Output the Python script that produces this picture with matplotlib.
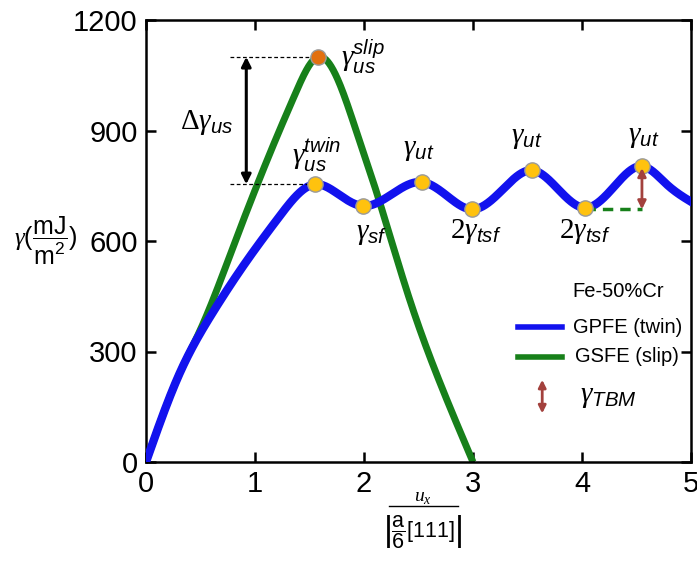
import numpy as np
import matplotlib
matplotlib.use("Agg")
import matplotlib.pyplot as plt
from matplotlib.lines import Line2D

plt.rcParams['font.family'] = ['Liberation Sans', 'DejaVu Sans']
plt.rcParams['mathtext.fontset'] = 'custom'
plt.rcParams['mathtext.rm'] = 'Liberation Sans'
plt.rcParams['mathtext.it'] = 'Liberation Sans:italic'
plt.rcParams['mathtext.cal'] = 'Liberation Serif:italic'
plt.rcParams['mathtext.bf'] = 'Liberation Serif'
plt.rcParams['mathtext.sf'] = 'Liberation Sans'

# ---- data ----
gpfe_x = [0, 0.30, 0.60, 0.91, 1.22, 1.55, 1.78, 1.99, 2.26, 2.53, 2.76, 2.99,
          3.27, 3.54, 3.78, 4.03, 4.29, 4.55, 4.78, 5.02]
gpfe_y = [0, 235, 400, 540, 665, 754, 724, 695, 728, 760, 723, 686,
          739, 792, 741, 690, 746, 803, 753, 703]

gsfe_x = [0, 0.30, 0.50, 0.82, 1.03, 1.21, 1.37, 1.58, 1.78, 1.94, 2.08, 2.42, 2.70, 3.0]
gsfe_y = [0, 235, 360, 600, 760, 890, 1000, 1100, 1024, 889, 765, 440, 213, 0]

dot_x = [1.55, 1.99, 2.53, 2.99, 3.54, 4.03, 4.55]
dot_y = [754, 695, 760, 686, 792, 690, 803]
slip_peak = (1.58, 1100)
tbm_x = 4.55
tbm_range = (686, 798)
tbm_dash_x = [4.03, 4.55]

x_ticks = [0, 1, 2, 3, 4, 5]
y_ticks = [0, 300, 600, 900, 1200]

BLUE = '#1212EE'
GREEN = '#17801A'
BROWN = '#A3413D'
GOLD = '#FFC20E'


def cspline(x, y, xs):
    """Natural cubic spline through the read points (smooth drawing only)."""
    x = np.asarray(x, float); y = np.asarray(y, float)
    n = len(x); h = np.diff(x)
    A = np.zeros((n, n)); r = np.zeros(n)
    A[0, 0] = 1; A[-1, -1] = 1
    for i in range(1, n - 1):
        A[i, i - 1] = h[i - 1]; A[i, i] = 2 * (h[i - 1] + h[i]); A[i, i + 1] = h[i]
        r[i] = 3 * ((y[i + 1] - y[i]) / h[i] - (y[i] - y[i - 1]) / h[i - 1])
    c = np.linalg.solve(A, r)
    b = (y[1:] - y[:-1]) / h - h * (2 * c[:-1] + c[1:]) / 3
    d = (c[1:] - c[:-1]) / (3 * h)
    idx = np.clip(np.searchsorted(x, xs) - 1, 0, n - 2)
    t = xs - x[idx]
    return y[idx] + b[idx] * t + c[idx] * t**2 + d[idx] * t**3


fig = plt.figure(figsize=(6.97, 5.63), dpi=100)
ax = fig.add_axes([146 / 697, 1 - 462 / 563, 545 / 697, 442 / 563])

xs_g = np.linspace(gsfe_x[0], gsfe_x[-1], 600)
ax.plot(xs_g, cspline(gsfe_x, gsfe_y, xs_g), color=GREEN, lw=5.0,
        solid_capstyle='butt', zorder=2)
xs_b = np.linspace(gpfe_x[0], gpfe_x[-1], 900)
ax.plot(xs_b, cspline(gpfe_x, gpfe_y, xs_b), color=BLUE, lw=6.0,
        solid_capstyle='butt', zorder=3)

ax.plot(dot_x, dot_y, 'o', ms=11, mfc=GOLD, mec='#9A9A9A', mew=1.0, zorder=5)
ax.plot([slip_peak[0]], [slip_peak[1]], 'o', ms=11, mfc='#E2700F',
        mec='#9A9A9A', mew=1.0, zorder=5)

# reference dashed lines and delta arrow
ax.plot([0.77, slip_peak[0]], [slip_peak[1]] * 2, ls=(0, (3, 2)), color='black', lw=0.9, zorder=4)
ax.plot([0.77, dot_x[0]], [dot_y[0]] * 2, ls=(0, (3, 2)), color='black', lw=0.9, zorder=4)
ax.annotate('', xy=(0.92, slip_peak[1]), xytext=(0.92, dot_y[0]),
            arrowprops=dict(arrowstyle='<|-|>', color='black', lw=2.2,
                            mutation_scale=14, shrinkA=0, shrinkB=0), zorder=6)

# TBM
ax.plot(tbm_dash_x, [tbm_range[0]] * 2, ls=(0, (3, 2)), color=GREEN, lw=2.5, zorder=4)
ax.annotate('', xy=(tbm_x, tbm_range[1]), xytext=(tbm_x, tbm_range[0]),
            arrowprops=dict(arrowstyle='<|-|>', color=BROWN, lw=2.0,
                            mutation_scale=12, shrinkA=0, shrinkB=0), zorder=7)

LS = 21
G = r'\mathcal{\gamma}'
ax.text(1.79, 1100, rf'${G}_{{us}}^{{slip}}$', fontsize=LS, ha='left', va='center')
ax.text(1.34, 835, rf'${G}_{{us}}^{{twin}}$', fontsize=LS, ha='left', va='center')
ax.text(1.93, 622, rf'${G}_{{sf}}$', fontsize=LS, ha='left', va='center')
ax.text(0.31, 922, rf'$\mathbf{{\Delta}}{G}_{{us}}$', fontsize=LS, ha='left', va='center')
for xx, yy in [(2.50, 849), (3.49, 881), (4.57, 886)]:
    ax.text(xx, yy, rf'${G}_{{ut}}$', fontsize=LS, ha='center', va='center')
for xx in [3.03, 4.03]:
    ax.text(xx, 627, rf'$\mathbf{{2}}{G}_{{tsf}}$', fontsize=LS, ha='center', va='center')

# legend (manual)
tr = ax.transAxes
LF = 14.5
ax.text(0.783, 0.385, 'Fe-50%Cr', transform=tr, fontsize=LF, ha='left', va='center')
ax.add_line(Line2D([0.683, 0.763], [0.305, 0.305], transform=tr, color=BLUE, lw=4))
ax.text(0.783, 0.305, 'GPFE (twin)', transform=tr, fontsize=LF, ha='left', va='center')
ax.add_line(Line2D([0.683, 0.763], [0.2376, 0.2376], transform=tr, color=GREEN, lw=4))
ax.text(0.787, 0.2376, 'GSFE (slip)', transform=tr, fontsize=LF, ha='left', va='center')
ax.annotate('', xy=(0.727, 0.186), xytext=(0.727, 0.110), xycoords=tr, textcoords=tr,
            arrowprops=dict(arrowstyle='<|-|>', color=BROWN, lw=2.0,
                            mutation_scale=11, shrinkA=0, shrinkB=0))
ax.text(0.796, 0.149, rf'${G}_{{TBM}}$', transform=tr, fontsize=LS, ha='left', va='center')

ax.set_xlim(0, 5)
ax.set_ylim(0, 1200)
ax.set_xticks(x_ticks)
ax.set_yticks(y_ticks)
ax.tick_params(direction='in', length=7, width=1.8, labelsize=21, pad=6,
               top=True, right=True)
for s in ax.spines.values():
    s.set_linewidth(1.8)

# y label
fig.text(0.066, 1 - 241 / 563,
         r'$\mathcal{\gamma}(\dfrac{\mathrm{mJ}}{\mathrm{m}^2})$',
         fontsize=18, ha='center', va='center')
# x label (fraction)
cx = 423 / 697
fig.text(cx, 1 - 497 / 563, r'$\mathcal{u}_{\mathcal{x}}$', fontsize=14, ha='center', va='center')
fig.add_artist(Line2D([389 / 697, 458 / 697], [1 - 506 / 563] * 2, color='black', lw=1.0))
fig.text(cx, 1 - 532 / 563, r'$\left|\dfrac{\mathrm{a}}{\mathrm{6}}[111]\right|$',
         fontsize=15.5, ha='center', va='center')

fig.savefig('out.png', dpi=100)
